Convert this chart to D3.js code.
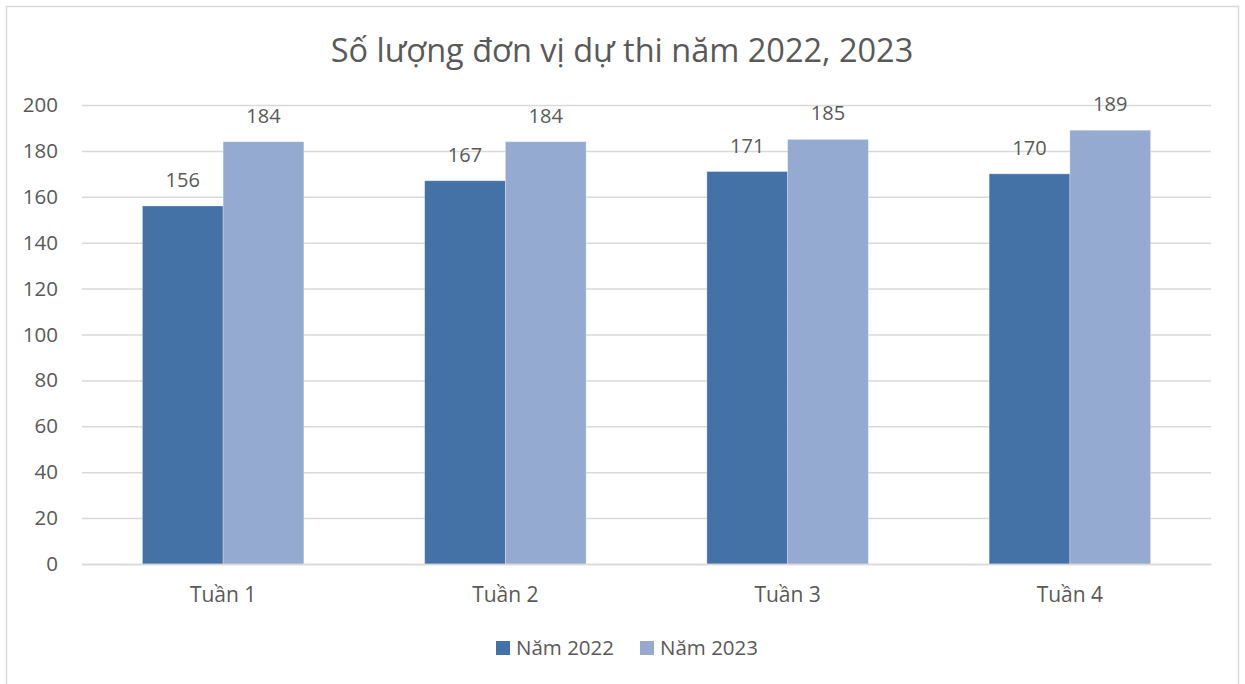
<!DOCTYPE html>
<html><head><meta charset="utf-8">
<script src="https://cdn.jsdelivr.net/npm/d3@7"></script>
<style>body{margin:0;background:#fff}svg{display:block}text{font-family:"Open Sans","Liberation Sans",sans-serif;fill:#595959}</style>
</head><body><svg id="c" width="1245" height="684"></svg>
<script>
const categories = ["Tuần 1","Tuần 2","Tuần 3","Tuần 4"];
const seriesNames = ["Năm 2022","Năm 2023"];
const values2022 = [156,167,171,170];
const values2023 = [184,184,185,189];
const yTicks = [0,20,40,60,80,100,120,140,160,180,200];
const colors = ["#4472A6","#95AAD1"];
const title = "Số lượng đơn vị dự thi năm 2022, 2023";

const series = [values2022, values2023];
const svg = d3.select("#c");
svg.append("rect").attr("x",6.5).attr("y",6.5).attr("width",1232).attr("height",690).attr("fill","#fff").attr("stroke","#d9d9d9").attr("stroke-width",1.5);

const L=82,R=1211,T=105,B=564;
const x = d3.scaleBand().domain(categories).range([L,R]).paddingInner(0.428).paddingOuter(0.214);
const xs = d3.scaleBand().domain(seriesNames).range([0,x.bandwidth()]);
const y = d3.scaleLinear().domain([0,200]).range([B,T]);

const g = svg.append("g");
const ya = g.append("g").attr("transform",`translate(${L},0)`)
  .call(d3.axisLeft(y).tickValues(yTicks).tickSize(-(R-L)).tickPadding(24));
ya.select(".domain").remove();
ya.selectAll("line").attr("stroke","#d9d9d9").attr("stroke-width",1.5);
ya.selectAll("text").attr("font-size",20.5).style("fill","#595959");

series.forEach((vals,si)=>{
  g.append("g").selectAll("rect").data(vals).join("rect")
    .attr("x",(d,i)=>x(categories[i])+xs(seriesNames[si]))
    .attr("y",d=>y(d)).attr("width",xs.bandwidth()).attr("height",d=>B-y(d))
    .attr("fill",colors[si]).attr("stroke","#fff").attr("stroke-opacity",0.35).attr("stroke-width",0.8);
  g.append("g").selectAll("text").data(vals).join("text")
    .attr("x",(d,i)=>x(categories[i])+xs(seriesNames[si])+xs.bandwidth()/2)
    .attr("y",d=>y(d)-19).attr("text-anchor","middle").attr("font-size",20).text(d=>d);
});

const xa = g.append("g").attr("transform",`translate(0,${B})`).call(d3.axisBottom(x).tickSize(0));
xa.select(".domain").attr("stroke","#d9d9d9").attr("stroke-width",1.5);
xa.selectAll("text").attr("font-size",21).attr("dy",null).attr("y",38).style("fill","#595959");

svg.append("text").attr("x",622).attr("y",62).attr("text-anchor","middle").attr("font-size",32.5).text(title);

const leg = svg.append("g");
const legX=[496,640];
seriesNames.forEach((n,i)=>{
  leg.append("rect").attr("x",legX[i]).attr("y",641).attr("width",14).attr("height",14).attr("fill",colors[i]);
  leg.append("text").attr("x",legX[i]+20).attr("y",655).attr("font-size",20.5).text(n);
});
</script></body></html>
